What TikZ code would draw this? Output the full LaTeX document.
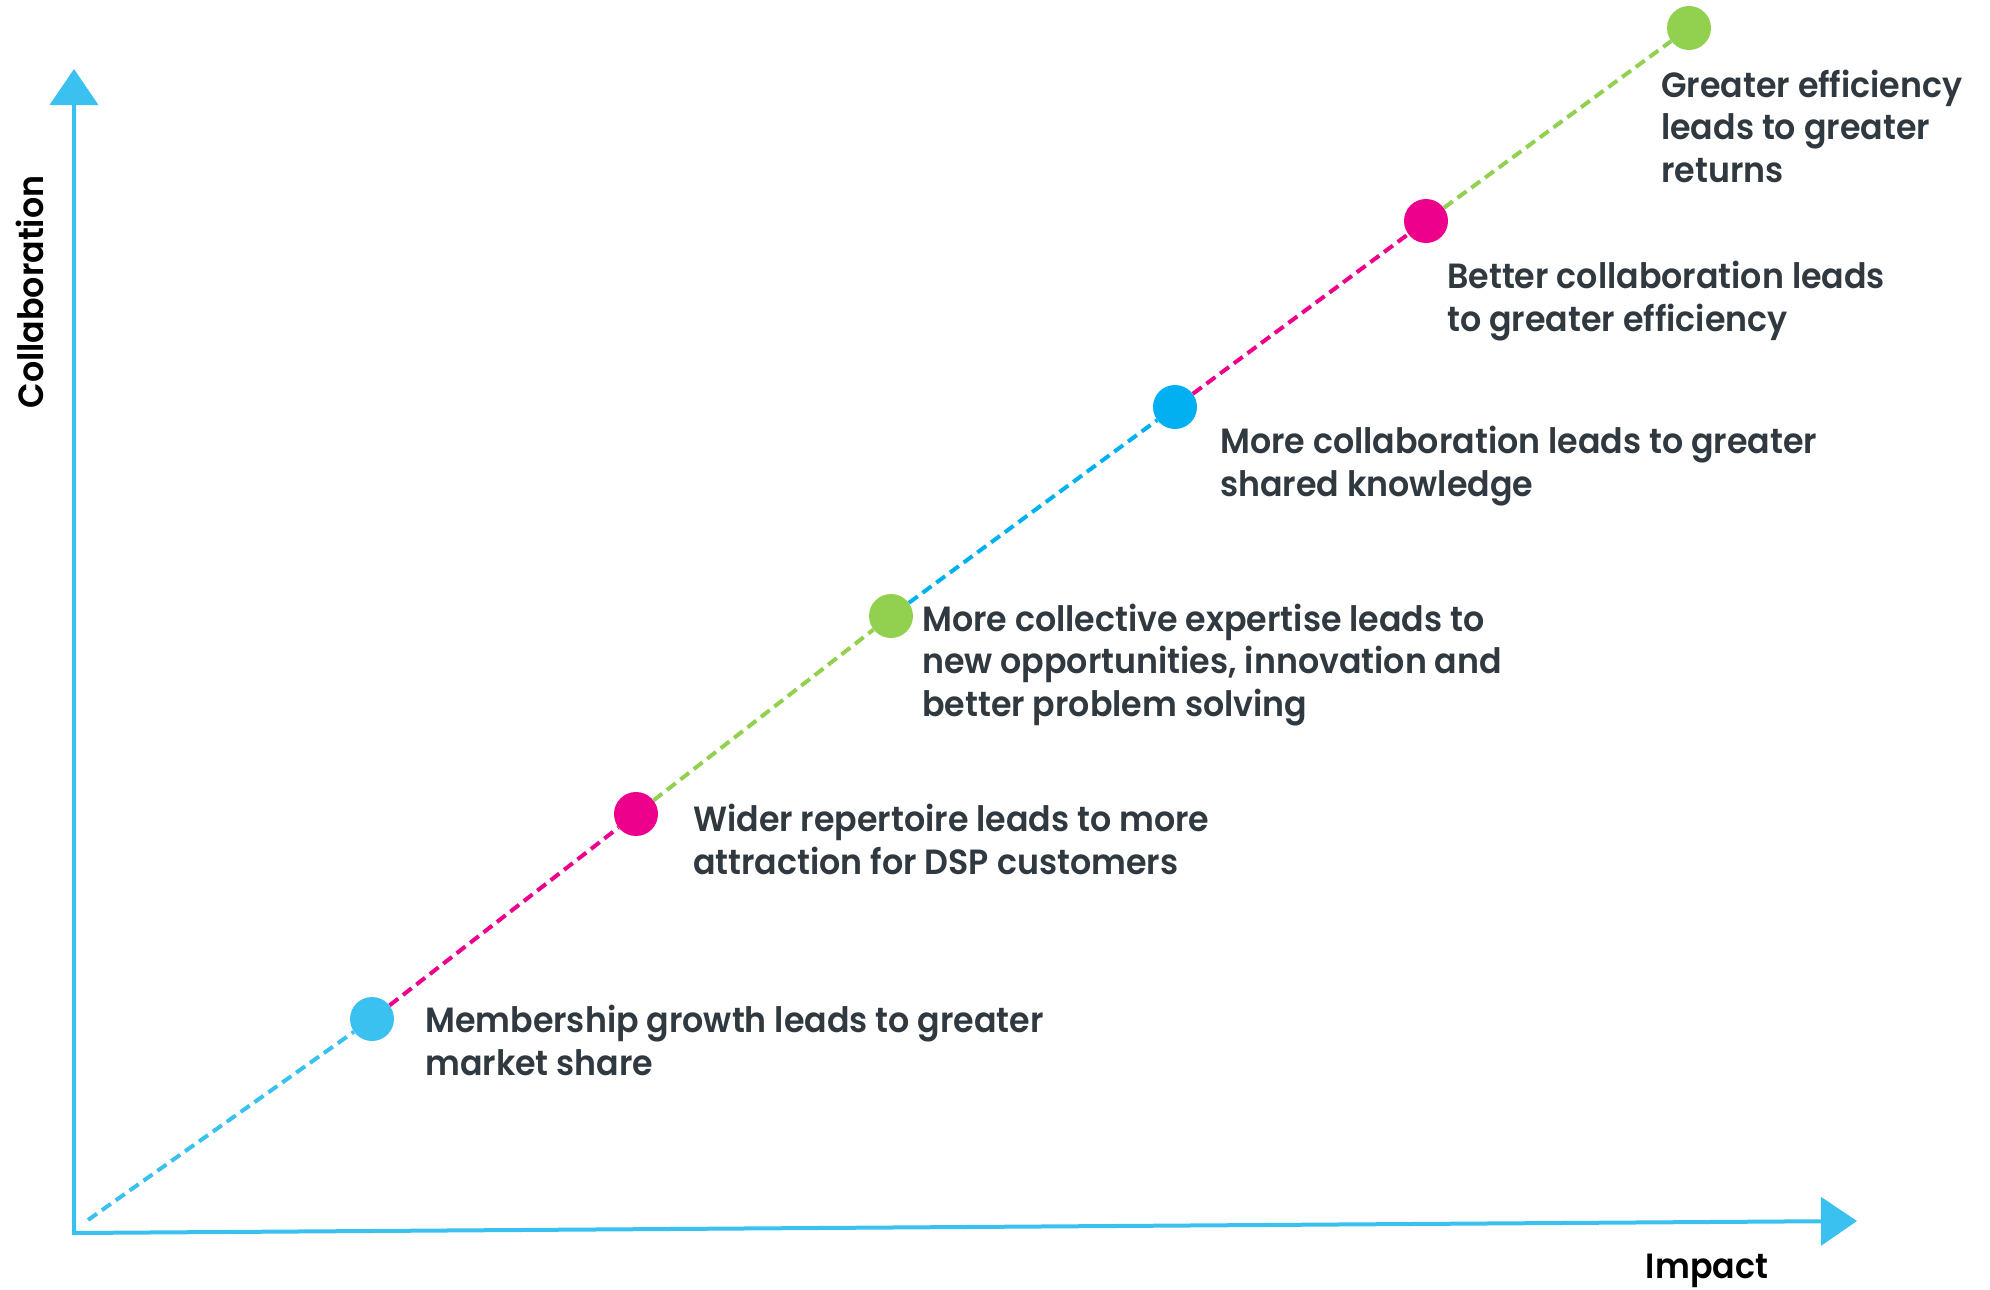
\documentclass[tikz,border=0pt]{standalone}
\usepackage{fontspec}
\setmainfont{Poppins}[FakeStretch=0.95,BoldFont={* SemiBold}]
\usetikzlibrary{arrows.meta}
\definecolor{axblue}{HTML}{3BC1EF}
\definecolor{dotblue}{HTML}{00B0F0}
\definecolor{dotpink}{HTML}{EC008C}
\definecolor{dotgreen}{HTML}{92D050}
\definecolor{txtgray}{HTML}{30393F}

\begin{document}
\begin{tikzpicture}[x=1pt,y=-1pt,
  axis/.style={line width=4pt,axblue,{Triangle[length=36pt,width=48pt]}-{Triangle[length=36pt,width=48pt]}},
  link/.style={line width=4pt,dash pattern=on 11pt off 6pt},
  dot/.style={circle,fill=#1,inner sep=0pt,minimum size=44pt},
  lbl/.style={anchor=base west,align=left,inner sep=0pt,text=txtgray,font=\bfseries\fontsize{35}{42.5}\selectfont},
  axlbl/.style={anchor=base,inner sep=0pt,font=\bfseries\fontsize{35}{42}\selectfont}]
  \useasboundingbox (0,0) rectangle (1990,1290);
  \coordinate (O) at (74,1233); \coordinate (ytip) at (74,69);
  \coordinate (xtip) at (1857,1221); \coordinate (s) at (88,1220);
  \draw[axis] (ytip) -- (O) -- (xtip);
  \node[axlbl,rotate=90] (ylbl) at (43,292) {Collaboration};
  \node[axlbl] (xlbl) at (1707,1278) {Impact};
  \node[dot=axblue] (d1) at (372,1019) {};
  \node[dot=dotpink] (d2) at (636,814) {};
  \node[dot=dotgreen] (d3) at (891,616) {};
  \node[dot=dotblue] (d4) at (1175,407) {};
  \node[dot=dotpink] (d5) at (1426,221) {};
  \node[dot=dotgreen] (d6) at (1689,28) {};
  \draw[link,axblue] (s) -- (d1);
  \draw[link,dotpink] (d1) -- (d2);
  \draw[link,dotgreen] (d2) -- (d3);
  \draw[link,dotblue] (d3) -- (d4);
  \draw[link,dotpink] (d4) -- (d5);
  \draw[link,dotgreen] (d5) -- (d6);
  \node[lbl] (t1) at (425,1075) {Membership growth leads to greater\\market share};
  \node[lbl] (t2) at (693,874) {Wider repertoire leads to more\\attraction for DSP customers};
  \node[lbl] (t3) at (922,716) {More collective expertise leads to\\new opportunities, innovation and\\better problem solving};
  \node[lbl] (t4) at (1220,496) {More collaboration leads to greater\\shared knowledge};
  \node[lbl] (t5) at (1447,331) {Better collaboration leads\\to greater efficiency};
  \node[lbl] (t6) at (1661,182) {Greater efficiency\\leads to greater\\returns};
\end{tikzpicture}
\end{document}
